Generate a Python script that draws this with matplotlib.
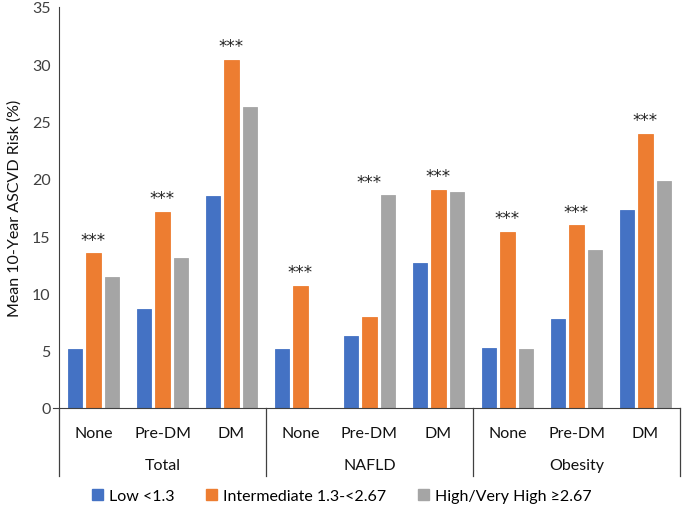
import matplotlib
matplotlib.use("Agg")
import matplotlib.pyplot as plt
from matplotlib.lines import Line2D
from matplotlib.patches import Patch
import numpy as np

plt.rcParams['font.family'] = ['Lato', 'DejaVu Sans']

groups = ["Total", "NAFLD", "Obesity"]
subcats = ["None", "Pre-DM", "DM"]
series_names = ["Low <1.3", "Intermediate 1.3-<2.67", "High/Very High \u22652.67"]
low = [5.15, 8.6, 18.5, 5.15, 6.3, 12.65, 5.25, 7.75, 17.25]
intermediate = [13.5, 17.15, 30.4, 10.65, 7.9, 19.05, 15.35, 15.95, 23.95]
high = [11.45, 13.05, 26.3, 0.0, 18.55, 18.85, 5.15, 13.75, 19.85]
significant = [True] * 9
colors = ["#4472C4", "#ED7D31", "#A5A5A5"]

fig = plt.figure(figsize=(6.84, 5.10), dpi=100)
ax = fig.add_axes([59/684, 1-409/510, (680-59)/684, (409-8)/510])

n = len(low)
x = np.arange(n)
offs = [-0.268, 0.0, 0.268]
width = 0.21
for vals, off, c in zip([low, intermediate, high], offs, colors):
    ax.bar(x + off, vals, width=width, color=c, edgecolor=c, linewidth=0.6, zorder=2)

for i in range(n):
    if significant[i]:
        m = max(low[i], intermediate[i], high[i])
        ax.text(i, m + 1.2, "***", ha='center', va='center', fontsize=12,
                family='DejaVu Sans', color='#222222')

ax.set_xlim(-0.5, n - 0.5)
ax.set_ylim(0, 35)
ax.set_yticks(np.arange(0, 36, 5))
ax.tick_params(axis='y', length=0, labelsize=11.5, colors='#404040', pad=6)
ax.tick_params(axis='x', length=0, labelsize=11.5, pad=13)
ax.set_xticks(x)
ax.set_xticklabels(subcats * 3, color='#111111')
for s in ['top', 'right']:
    ax.spines[s].set_visible(False)
ax.spines['left'].set_color('#404040')
ax.spines['bottom'].set_color('#404040')
ax.set_ylabel("Mean 10-Year ASCVD Risk (%)", fontsize=11.5, color='#111111', labelpad=7)

trans = ax.get_xaxis_transform()
ax.add_line(Line2D([-0.58, -0.5], [0, 0], transform=trans, color='#404040', lw=0.8, clip_on=False))
for b in [-0.5, 2.5, 5.5, 8.5]:
    ax.add_line(Line2D([b, b], [0, -0.17], transform=trans, color='#404040', lw=0.9, clip_on=False))
for gi, g in enumerate(groups):
    ax.text(gi * 3 + 1, -(466 - 409) / 401, g, transform=trans, ha='center', va='center',
            fontsize=11.5, color='#111111')

handles = [Patch(facecolor=c, edgecolor=c) for c in colors]
fig.legend(handles, series_names, loc='center', bbox_to_anchor=(0.5, 1 - 497/510), ncol=3,
           frameon=False, fontsize=11.5, handlelength=0.65, handleheight=0.65,
           handletextpad=0.4, columnspacing=2.0)

fig.savefig("out.png", dpi=100)
